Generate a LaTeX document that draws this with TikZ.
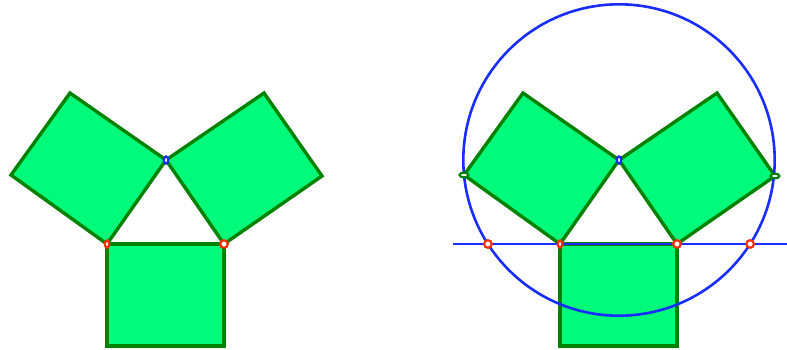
\documentclass[tikz,border=0pt]{standalone}
\usetikzlibrary{calc}
\definecolor{sqfill}{RGB}{0,250,122}
\definecolor{sqedge}{RGB}{0,130,0}
\definecolor{lblue}{RGB}{25,45,255}
\definecolor{pred}{RGB}{255,45,0}
\tikzset{
  sq/.style={fill=sqfill,draw=sqedge,line width=3.4pt,line join=miter},
  bl/.style={draw=lblue,line width=2.6pt},
  ptr/.style={draw=pred,fill=white,line width=2.2pt},
  ptb/.style={draw=lblue,fill=white,line width=2.2pt},
  ptg/.style={draw=sqedge,fill=white,line width=2.2pt},
}
\begin{document}
\begin{tikzpicture}[x=1pt,y=-1pt]
\useasboundingbox (0,0) rectangle (787,349);
\foreach \s/\n in {0/l,453/r}{
  \begin{scope}[xshift=\s pt]
    \coordinate (\n A) at (166,160);
    \coordinate (\n B) at (107,244);
    \coordinate (\n C) at (224,244);
    \coordinate (\n L1) at (11,175);
    \coordinate (\n L2) at (70,93);
    \coordinate (\n R1) at (264,93);
    \coordinate (\n R2) at (322,176);
    \coordinate (\n D1) at (224,346);
    \coordinate (\n D2) at (107,346);
  \end{scope}
}
\foreach \n in {l,r}{
  \draw[sq] (\n B) -- (\n L1) -- (\n L2) -- (\n A) -- cycle;
  \draw[sq] (\n A) -- (\n R1) -- (\n R2) -- (\n C) -- cycle;
  \draw[sq] (\n B) -- (\n C) -- (\n D1) -- (\n D2) -- cycle;
}
% right figure: circle and line
\coordinate (lineL) at (453,244);
\coordinate (lineR) at (787,244);
\draw[bl] (rA) circle[radius=155.7pt];
\draw[bl] (lineL) -- (lineR);
\coordinate (P1) at (487.9,244);
\coordinate (P2) at (750.1,244);
% points
\foreach \n in {l,r}{
  \draw[ptb] (\n A) ellipse[x radius=2.2pt,y radius=3.6pt];
  \draw[ptr] (\n B) ellipse[x radius=2.2pt,y radius=3.6pt];
  \draw[ptr] (\n C) circle[radius=3.8pt];
}
\draw[ptg] (rL1) ellipse[x radius=4.4pt,y radius=2.4pt];
\draw[ptg] (rR2) ellipse[x radius=4.4pt,y radius=2.4pt];
\draw[ptr] (P1) circle[radius=3.8pt];
\draw[ptr] (P2) circle[radius=3.8pt];
\end{tikzpicture}
\end{document}
